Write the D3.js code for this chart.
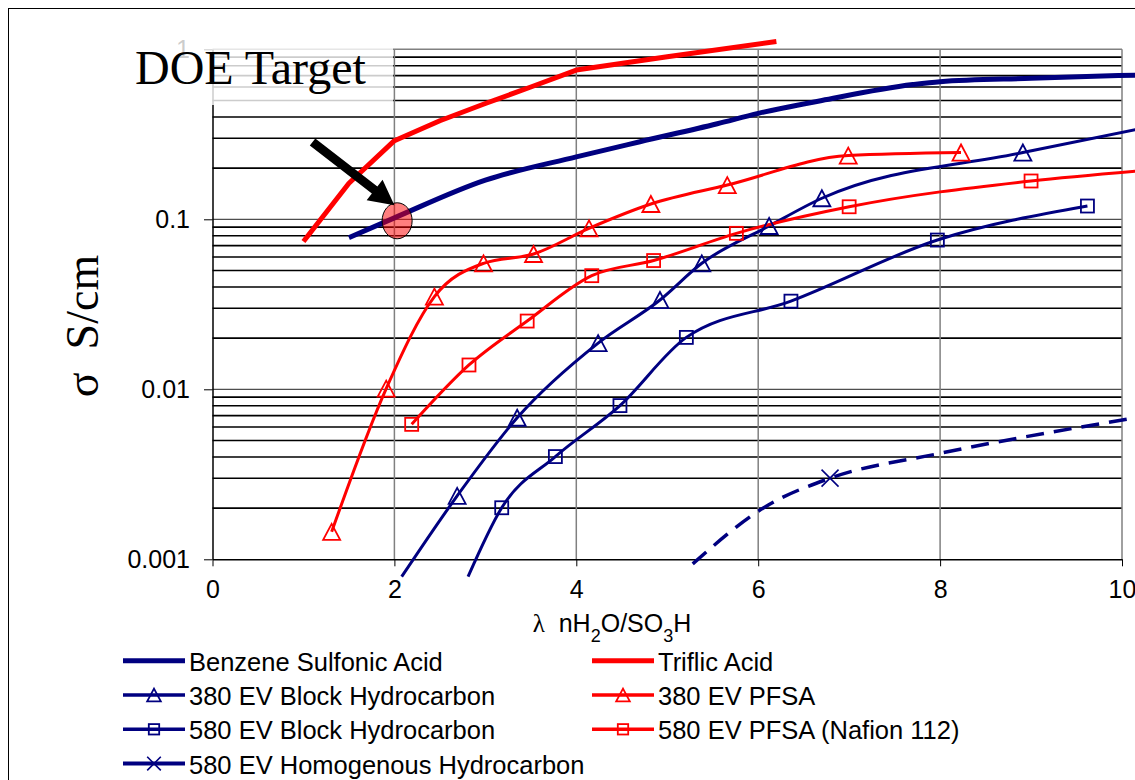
<!DOCTYPE html>
<html>
<head>
<meta charset="utf-8">
<script src="https://cdn.jsdelivr.net/npm/d3@7"></script>
<style>
  body { margin: 0; background: #fff; }
  svg text { font-family: "Liberation Sans", Arial, sans-serif; }
</style>
</head>
<body>
<div id="chart"></div>
<script>
// conductivity (S/cm) against lambda (nH2O/SO3H)
var benzene  = [[1.5,0.078],[2,0.102],[3,0.17],[4,0.233],[4.7,0.286],[5.55,0.365],[6,0.42],[6.7,0.5],[7.7,0.62],[8,0.645],[9,0.675],[10.15,0.705]];
var triflic  = [[1,0.074],[1.5,0.163],[2,0.29],[2.5,0.38],[3,0.48],[3.5,0.6],[4,0.755],[5,0.905],[6.2,1.11]];
var block380 = [[2.08,0.00079],[2.69,0.00236],[3.35,0.0068],[4.24,0.0187],[4.92,0.0335],[5.38,0.0551],[6.12,0.0913],[6.7,0.133],[8.91,0.247],[10.15,0.337]];
var pfsa380  = [[1.31,0.00145],[1.91,0.0101],[2.44,0.0351],[2.98,0.0551],[3.53,0.0625],[4.14,0.0885],[4.82,0.123],[5.66,0.159],[6.99,0.237],[8.23,0.247]];
var block580 = [[2.81,0.00079],[3.18,0.00201],[3.77,0.00402],[4.48,0.00802],[5.21,0.0202],[6.36,0.033],[7.97,0.0755],[9.62,0.1197]];
var pfsa580  = [[2.19,0.00622],[2.82,0.0139],[3.46,0.0252],[4.17,0.0466],[4.85,0.0572],[5.76,0.0827],[7.0,0.1185],[9.0,0.168],[10.15,0.192]];
var homog580 = [[5.28,0.00094],[6.08,0.00204],[6.79,0.003],[8,0.0042],[10.15,0.0068]];

var xTicks = [0, 2, 4, 6, 8, 10];
var yTicks = [0.001, 0.01, 0.1, 1];

// DOE target and the arrow pointing at it
var doeTarget = [2.03, 0.098];
var arrowFrom = [1.1, 0.285];
var arrowTo = [2.0, 0.121];

var navy = "#000080", red = "#ff0000";

// markerAt: only these points carry a marker (the rest only shape the line)
var series = [
  {name: "Benzene Sulfonic Acid", data: benzene, color: navy, width: 5, marker: null, curve: d3.curveMonotoneX},
  {name: "Triflic Acid", data: triflic, color: red, width: 5, marker: null, curve: d3.curveLinear},
  {name: "380 EV Block Hydrocarbon", data: block380, color: navy, width: 3, marker: "triangle", curve: d3.curveMonotoneX},
  {name: "380 EV PFSA", data: pfsa380, color: red, width: 3, marker: "triangle", curve: d3.curveMonotoneX},
  {name: "580 EV Block Hydrocarbon", data: block580, color: navy, width: 3, marker: "square", curve: d3.curveMonotoneX},
  {name: "580 EV PFSA (Nafion 112)", data: pfsa580, color: red, width: 3, marker: "square", curve: d3.curveMonotoneX},
  {name: "580 EV Homogenous Hydrocarbon", data: homog580, color: navy, width: 3.5, marker: "cross", markerAt: [2], curve: d3.curveMonotoneX, dash: "18,10"}
];

var width = 1135, height = 780;

var svg = d3.select("#chart").append("svg")
    .attr("width", width)
    .attr("height", height);

// outer frame of the chart object
svg.append("rect")
    .attr("x", 8.5).attr("y", 8.5)
    .attr("width", 1300).attr("height", 1000)
    .attr("fill", "none")
    .attr("stroke", "#000")
    .attr("stroke-width", 1);

var x = d3.scaleLinear().domain([0, 10]).range([212.5, 1122]);
var y = d3.scaleLog().domain([0.001, 1]).range([559.3, 49.3]);

// horizontal grid, one line per minor step of each decade
var minorVals = [];
[0.001, 0.01, 0.1].forEach(function(dec) {
  for (var k = 2; k <= 9; k++) minorVals.push(dec * k);
});

var grid = svg.append("g");
grid.selectAll(".hminor").data(minorVals).enter().append("line")
    .attr("x1", x(0)).attr("x2", x(10))
    .attr("y1", function(d) { return y(d); })
    .attr("y2", function(d) { return y(d); })
    .attr("stroke", "#000")
    .attr("stroke-width", 1.6);

grid.selectAll(".hmajor").data([0.01, 0.1]).enter().append("line")
    .attr("x1", x(0)).attr("x2", x(10))
    .attr("y1", function(d) { return y(d); })
    .attr("y2", function(d) { return y(d); })
    .attr("stroke", "#222")
    .attr("stroke-width", 1);

// top border
grid.append("line")
    .attr("x1", x(0)).attr("x2", x(10))
    .attr("y1", y(1)).attr("y2", y(1))
    .attr("stroke", "#808080").attr("stroke-width", 1.5);

grid.selectAll(".vgrid").data([2, 4, 6, 8, 10]).enter().append("line")
    .attr("x1", function(d) { return x(d); })
    .attr("x2", function(d) { return x(d); })
    .attr("y1", y(1)).attr("y2", y(0.001))
    .attr("stroke", "#808080")
    .attr("stroke-width", 1.5);

// axes
var xAxis = d3.axisBottom(x).tickValues(xTicks).tickSize(7).tickSizeOuter(0).tickPadding(14)
    .tickFormat(function(d) { return d; });
var gx = svg.append("g")
    .attr("transform", "translate(0," + y(0.001) + ")")
    .call(xAxis);
gx.select(".domain").attr("stroke", "#000").attr("stroke-width", 1.5);
gx.selectAll(".tick line").attr("stroke", "#000");
gx.selectAll(".tick text").attr("fill", "#000").style("font-size", "25px");

var yAxis = d3.axisLeft(y).tickValues(yTicks).tickSize(8.5).tickSizeOuter(0).tickPadding(14)
    .tickFormat(function(d) { return String(d); });
var gy = svg.append("g")
    .attr("transform", "translate(" + x(0) + ",0)")
    .call(yAxis);
gy.select(".domain").attr("stroke", "#000").attr("stroke-width", 1.5);
gy.selectAll(".tick line").attr("stroke", "#000");
gy.selectAll(".tick text").attr("fill", "#000").style("font-size", "25px");

// axis titles
var xt = svg.append("text")
    .attr("x", 612).attr("y", 632)
    .attr("text-anchor", "middle")
    .style("font-size", "25px");
xt.append("tspan").style("font-family", "Liberation Serif, serif").text("λ");
xt.append("tspan").text("\u00a0 nH");
xt.append("tspan").attr("baseline-shift", "sub").style("font-size", "18px").text("2");
xt.append("tspan").text("O/SO");
xt.append("tspan").attr("baseline-shift", "sub").style("font-size", "18px").text("3");
xt.append("tspan").text("H");

svg.append("text")
    .attr("transform", "translate(98,326) rotate(-90)")
    .attr("text-anchor", "middle")
    .style("font-family", "Liberation Serif, serif")
    .style("font-size", "46px")
    .text("σ\u00a0\u00a0S/cm");

// series lines
var lines = svg.append("g");
series.forEach(function(s) {
  var valueLine = d3.line()
      .x(function(d) { return x(d[0]); })
      .y(function(d) { return y(d[1]); })
      .curve(s.curve);
  lines.append("path")
      .datum(s.data)
      .attr("d", valueLine)
      .attr("fill", "none")
      .attr("stroke", s.color)
      .attr("stroke-width", s.width)
      .attr("stroke-linejoin", "round")
      .attr("stroke-dasharray", s.dash || null);
});

function drawMarker(g, type, cx, cy, color, scale) {
  scale = scale || 1;
  if (type === "triangle") {
    var w = 8.5 * scale, h = 8 * scale;
    g.append("path")
        .attr("d", "M" + cx + "," + (cy - h) + "L" + (cx + w) + "," + (cy + h) + "L" + (cx - w) + "," + (cy + h) + "Z")
        .attr("fill", "none").attr("stroke", color).attr("stroke-width", 1.8);
  } else if (type === "square") {
    var r = 6.5 * scale;
    g.append("rect")
        .attr("x", cx - r).attr("y", cy - r)
        .attr("width", 2 * r).attr("height", 2 * r)
        .attr("fill", "none").attr("stroke", color).attr("stroke-width", 1.8);
  } else if (type === "cross") {
    var c = 8.5 * scale;
    g.append("path")
        .attr("d", "M" + (cx - c) + "," + (cy - c) + "L" + (cx + c) + "," + (cy + c) + "M" + (cx - c) + "," + (cy + c) + "L" + (cx + c) + "," + (cy - c))
        .attr("fill", "none").attr("stroke", color).attr("stroke-width", 1.6);
  }
}

// markers, only where the point is inside the plot area
var marks = svg.append("g");
series.forEach(function(s) {
  if (!s.marker) return;
  s.data.forEach(function(d, i) {
    if (s.markerAt && s.markerAt.indexOf(i) < 0) return;
    if (d[0] > 10 || d[1] < 0.001 || d[1] > 1) return;
    drawMarker(marks, s.marker, x(d[0]), y(d[1]), s.color);
  });
});

// DOE Target label with its half transparent white box
svg.append("rect")
    .attr("x", 128).attr("y", 36)
    .attr("width", 265).attr("height", 69)
    .attr("fill", "#fff")
    .attr("fill-opacity", 0.8);

svg.append("text")
    .attr("x", 135).attr("y", 84)
    .style("font-family", "Liberation Serif, serif")
    .style("font-size", "48px")
    .attr("fill", "#000")
    .text("DOE Target");

svg.append("ellipse")
    .attr("cx", x(doeTarget[0])).attr("cy", y(doeTarget[1]))
    .attr("rx", 15).attr("ry", 18)
    .attr("fill", "#ff0000").attr("fill-opacity", 0.5)
    .attr("stroke", "#000").attr("stroke-width", 1);

// arrow
var t0 = [x(arrowFrom[0]), y(arrowFrom[1])], t1 = [x(arrowTo[0]), y(arrowTo[1])];
var dx = t1[0] - t0[0], dy = t1[1] - t0[1], len = Math.sqrt(dx * dx + dy * dy);
var ux = dx / len, uy = dy / len, nx = -uy, ny = ux;
var hw = 4.5, hl = 25, hh = 13;
var bx = t1[0] - ux * hl, by = t1[1] - uy * hl;
var pts = [
  [t0[0] + nx * hw, t0[1] + ny * hw],
  [bx + nx * hw, by + ny * hw],
  [bx + nx * hh, by + ny * hh],
  t1,
  [bx - nx * hh, by - ny * hh],
  [bx - nx * hw, by - ny * hw],
  [t0[0] - nx * hw, t0[1] - ny * hw]
];
svg.append("path")
    .attr("d", "M" + pts.join("L") + "Z")
    .attr("fill", "#000");

// legend, two columns
var legendCols = [[0, 2, 4, 6], [1, 3, 5]];
var colX = [123, 592];
legendCols.forEach(function(col, ci) {
  col.forEach(function(si, ri) {
    var s = series[si];
    var base = 670.7 + ri * 34.3;
    var g = svg.append("g");
    var ly = base - 10;
    g.append("line")
        .attr("x1", colX[ci]).attr("x2", colX[ci] + 62)
        .attr("y1", ly).attr("y2", ly)
        .attr("stroke", s.color)
        .attr("stroke-width", s.width + (s.marker ? 0.5 : 0));
    if (s.marker) drawMarker(g, s.marker, colX[ci] + 31, ly, s.color, 0.8);
    g.append("text")
        .attr("x", colX[ci] + 66).attr("y", base)
        .style("font-size", "25.5px")
        .attr("fill", "#000")
        .text(s.name);
  });
});
</script>
</body>
</html>
